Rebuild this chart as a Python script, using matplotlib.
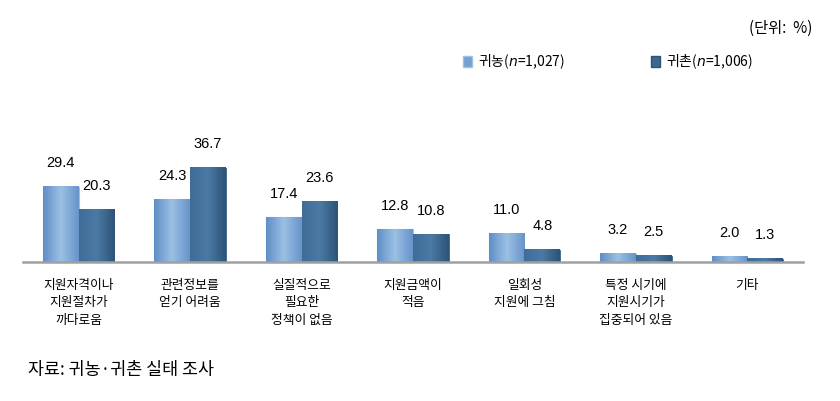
import numpy as np
import matplotlib.pyplot as plt
from matplotlib.patches import Patch
from matplotlib.colors import LinearSegmentedColormap

plt.rcParams['font.family'] = ['Noto Sans CJK KR', 'DejaVu Sans']

categories = ['지원자격이나\n지원절차가\n까다로움', '관련정보를\n얻기 어려움', '실질적으로\n필요한\n정책이 없음',
              '지원금액이\n적음', '일회성\n지원에 그침', '특정 시기에\n지원시기가\n집중되어 있음', '기타']
farm = [29.4, 24.3, 17.4, 12.8, 11.0, 3.2, 2.0]
rural = [20.3, 36.7, 23.6, 10.8, 4.8, 2.5, 1.3]
farm_label = '귀농($n$=1,027)'
rural_label = '귀촌($n$=1,006)'

c_farm = '#74a0d2'
c_rural = '#3b6690'
grad_farm = LinearSegmentedColormap.from_list('gf', ['#5f8fc7', '#9cc0e4', '#6894cb'])
grad_rural = LinearSegmentedColormap.from_list('gr', ['#3f6d98', '#4a7aa5', '#2e5377'])

fig = plt.figure(figsize=(8.4, 4.01), dpi=100)
ax = fig.add_axes([23/840, (401-262)/401, 780/840, 102.6/401])

x = np.arange(len(categories))
w = 0.32
b1 = ax.bar(x - w/2, farm, w, color=c_farm, edgecolor='#a4c0e2', linewidth=0.8)
b2 = ax.bar(x + w/2, rural, w, color=c_rural, edgecolor='#2f5378', linewidth=0.5)

# horizontal gradient inside each bar
grad = np.linspace(0, 1, 64).reshape(1, -1)
for bars, cm in [(b1, grad_farm), (b2, grad_rural)]:
    for r in bars:
        x0, h = r.get_x(), r.get_height()
        ax.imshow(grad, cmap=cm, aspect='auto', extent=(x0, x0 + r.get_width(), 0, h), zorder=2)

for bars, vals in [(b1, farm), (b2, rural)]:
    for r, v in zip(bars, vals):
        ax.annotate(f'{v:.1f}', (r.get_x() + r.get_width()/2, v), xytext=(0, 17),
                    textcoords='offset points', ha='center', va='center',
                    fontsize=10.5, family='Liberation Sans', annotation_clip=False)

ax.set_xlim(-0.5, len(categories) - 0.5)
ax.set_ylim(0, 40)
for s in ['top', 'right', 'left']:
    ax.spines[s].set_visible(False)
ax.spines['bottom'].set_color('#a0a0a0')
ax.spines['bottom'].set_linewidth(1.8)
ax.spines['bottom'].set_zorder(3)
ax.set_yticks([])
ax.set_xticks(x)
ax.set_xticklabels(categories, fontsize=9.2, linespacing=1.45, va='top')
ax.tick_params(axis='x', length=0, pad=12)

handles = [Patch(facecolor=c_farm, edgecolor='#a4c0e2'), Patch(facecolor=c_rural, edgecolor='#2f5378')]
fig.legend(handles, [farm_label, rural_label], ncol=2, loc='center left',
           bbox_to_anchor=(450/840, 1 - 62/401), frameon=False, fontsize=10,
           handlelength=0.7, handleheight=0.9, handletextpad=0.4, columnspacing=6.2)

fig.text(812/840, 1 - 28/401, '(단위:  %)', ha='right', va='center', fontsize=11)
fig.text(28/840, 1 - 370/401, '자료: 귀농·귀촌 실태 조사', ha='left', va='center', fontsize=12.5)

fig.savefig('out.png', dpi=100)
